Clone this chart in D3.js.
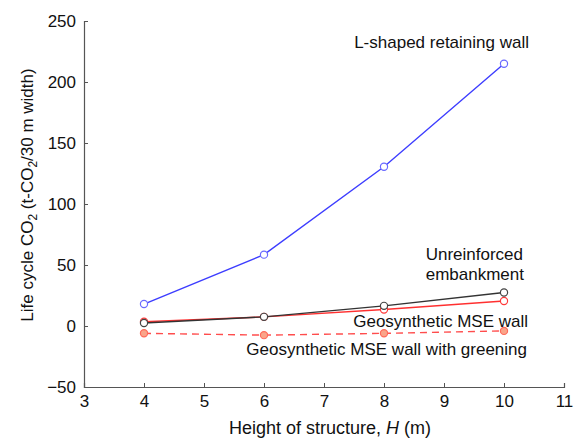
<!DOCTYPE html>
<html>
<head>
<meta charset="utf-8">
<script src="https://cdn.jsdelivr.net/npm/d3@7"></script>
<style>
  body { margin: 0; background: #fff; }
  text { font-family: "Liberation Sans", Arial, sans-serif; }
</style>
</head>
<body>
<div id="chart"></div>
<script>
// data
const heights = [4, 6, 8, 10];
const lShapedWall = [18, 58.5, 130.5, 215];
const unreinforced = [2.5, 7.5, 16.5, 27.5];
const mseWall = [3.5, 7.5, 13.5, 20.5];
const mseGreening = [-6, -7.5, -6, -4];
const xTicks = [3, 4, 5, 6, 7, 8, 9, 10, 11];
const yTicks = [-50, 0, 50, 100, 150, 200, 250];

const width = 582, height = 441;
const margin = {top: 21, right: 18, bottom: 54, left: 84};

const x = d3.scaleLinear().domain([3, 11]).range([margin.left, width - margin.right]);
const y = d3.scaleLinear().domain([-50, 250]).range([height - margin.bottom, margin.top]);

const svg = d3.select("#chart").append("svg")
  .attr("width", width)
  .attr("height", height);

// axes, ticks pointing inwards
const xAxis = d3.axisBottom(x).tickValues(xTicks).tickSizeInner(-4).tickSizeOuter(-4).tickPadding(8);
const yAxis = d3.axisLeft(y).tickValues(yTicks).tickSizeInner(-4).tickSizeOuter(-4).tickPadding(8)
  .tickFormat(d => d < 0 ? "\u2212" + Math.abs(d) : d);

function styleAxis(g) {
  g.select(".domain").attr("stroke", "#555").attr("stroke-width", 1.2);
  g.selectAll(".tick line").attr("stroke", "#555");
  g.selectAll(".tick text").attr("fill", "#111").style("font-size", "17px")
    .style("font-family", "'Liberation Sans', Arial, sans-serif");
}

svg.append("g")
  .attr("transform", "translate(0," + y(-50) + ")")
  .call(xAxis)
  .call(styleAxis);

svg.append("g")
  .attr("transform", "translate(" + x(3) + ",0)")
  .call(yAxis)
  .call(styleAxis);

// axis titles
const xTitle = svg.append("text")
  .attr("x", 330).attr("y", 434)
  .attr("text-anchor", "middle")
  .style("font-size", "18px").attr("fill", "#111");
xTitle.append("tspan").text("Height of structure, ");
xTitle.append("tspan").style("font-style", "italic").text("H");
xTitle.append("tspan").text(" (m)");

const yTitle = svg.append("text")
  .attr("transform", "translate(33,195) rotate(-90)")
  .attr("text-anchor", "middle")
  .style("font-size", "17px").attr("fill", "#111");
yTitle.append("tspan").text("Life cycle CO");
yTitle.append("tspan").attr("dy", 4).style("font-size", "12px").text("2");
yTitle.append("tspan").attr("dy", -4).text(" (t-CO");
yTitle.append("tspan").attr("dy", 4).style("font-size", "12px").text("2");
yTitle.append("tspan").attr("dy", -4).text("/30 m width)");

// series
const series = [
  {values: mseGreening, stroke: "#ff4d4d", dash: "7,5", fill: "#f9a58a", mstroke: "#ff6a5a"},
  {values: mseWall, stroke: "#ff3030", dash: null, fill: "#fff", mstroke: "#ff3a3a"},
  {values: unreinforced, stroke: "#333", dash: null, fill: "#fff", mstroke: "#444"},
  {values: lShapedWall, stroke: "#3d3dff", dash: null, fill: "#fff", mstroke: "#6a6aff"}
];

const line = d3.line().x(d => x(d[0])).y(d => y(d[1]));

series.forEach(s => {
  const pts = heights.map((h, i) => [h, s.values[i]]);
  svg.append("path")
    .datum(pts)
    .attr("fill", "none")
    .attr("stroke", s.stroke)
    .attr("stroke-width", 1.4)
    .attr("stroke-dasharray", s.dash)
    .attr("d", line);
  svg.append("g").selectAll("circle")
    .data(pts)
    .enter().append("circle")
    .attr("cx", d => x(d[0]))
    .attr("cy", d => y(d[1]))
    .attr("r", 3.6)
    .attr("fill", s.fill)
    .attr("stroke", s.mstroke)
    .attr("stroke-width", 1.2);
});

// series labels
const labels = [
  {text: "L-shaped retaining wall", x: 529, y: 48},
  {text: "Unreinforced", x: 523, y: 260},
  {text: "embankment", x: 524, y: 280},
  {text: "Geosynthetic MSE wall", x: 528, y: 327},
  {text: "Geosynthetic MSE wall with greening", x: 527, y: 355}
];

svg.append("g").selectAll("text")
  .data(labels)
  .enter().append("text")
  .attr("x", d => d.x)
  .attr("y", d => d.y)
  .attr("text-anchor", "end")
  .style("font-size", "17px")
  .attr("fill", "#111")
  .text(d => d.text);
</script>
</body>
</html>
